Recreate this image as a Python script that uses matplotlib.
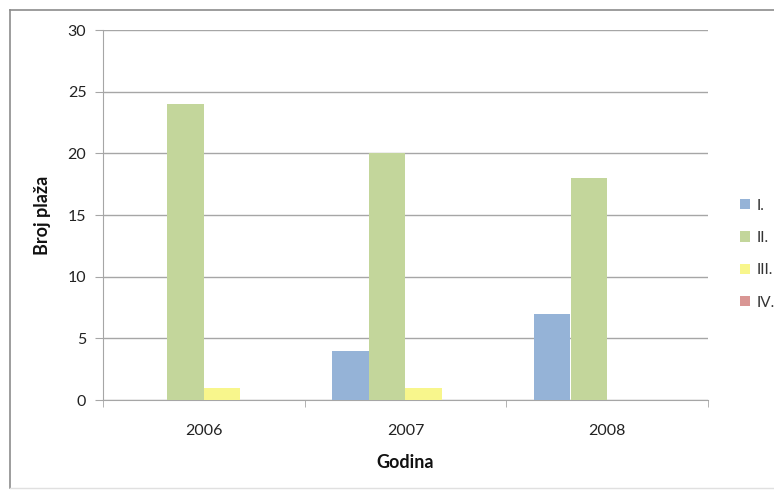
import matplotlib
matplotlib.use("Agg")
import matplotlib.pyplot as plt
from matplotlib.lines import Line2D
from matplotlib.patches import Patch
import numpy as np

years = ["2006", "2007", "2008"]
series_names = ["I.", "II.", "III.", "IV."]
val_I = [0, 4, 7]
val_II = [24, 20, 18]
val_III = [1, 1, 0]
val_IV = [0, 0, 0]
yticks = [0, 5, 10, 15, 20, 25, 30]

colors = ["#95B3D7", "#C3D69B", "#F8F68C", "#D99694"]
plt.rcParams['font.family'] = ['Lato', 'DejaVu Sans']

W, H = 774, 490
fig = plt.figure(figsize=(W / 100, H / 100), dpi=100)
ax = fig.add_axes([103 / W, 1 - 400 / H, 605 / W, 370 / H])

x = np.arange(len(years))
w = 1 / 5.5
all_vals = [val_I, val_II, val_III, val_IV]
for i, (vals, c) in enumerate(zip(all_vals, colors)):
    ax.bar(x + (i - 1.5) * w, vals, width=w, color=c, zorder=3, linewidth=0)

ax.set_xlim(-0.5, 2.5)
ax.set_ylim(0, 30)
ax.set_yticks(yticks)
ax.yaxis.grid(True, color="#A6A6A6", linewidth=1.0, zorder=0)
ax.set_axisbelow(True)
for s in ["top", "right"]:
    ax.spines[s].set_visible(False)
ax.spines["left"].set_color("#A6A6A6")
ax.spines["bottom"].set_color("#A6A6A6")
ax.spines["left"].set_zorder(1)

ax.set_xticks(x)
ax.set_xticklabels(years)
ax.set_xticks([-0.5, 0.5, 1.5, 2.5], minor=True)
ax.tick_params(axis="x", which="major", length=0, pad=17, labelsize=11.5, labelcolor="#222222")
ax.tick_params(axis="x", which="minor", length=5, color="#A6A6A6", direction="out")
ax.tick_params(axis="y", length=6, color="#A6A6A6", pad=6, labelsize=11.5, labelcolor="#222222")

ax.set_xlabel("Godina", fontsize=13, fontweight="bold", labelpad=12, color="#111111")
ax.set_ylabel("Broj plaža", fontsize=13, fontweight="bold", labelpad=12, color="#111111")

handles = [Patch(facecolor=c, edgecolor="none") for c in colors]
leg = fig.legend(handles, series_names, loc="center left", bbox_to_anchor=(726 / W, 1 - 254 / H),
                 frameon=False, fontsize=11, handlelength=0.65, handleheight=0.65,
                 handletextpad=0.45, labelspacing=1.2, labelcolor="#333333")

# outer chart border
fig.add_artist(Line2D([10 / W, 10 / W], [1 - 10 / H, 1 - 488 / H], transform=fig.transFigure,
                      color="#8C8C8C", linewidth=1.2))
fig.add_artist(Line2D([10 / W, 1.0], [1 - 10 / H, 1 - 10 / H], transform=fig.transFigure,
                      color="#8C8C8C", linewidth=1.2))
fig.add_artist(Line2D([10 / W, 1.0], [1 - 488 / H, 1 - 488 / H], transform=fig.transFigure,
                      color="#E0E0E0", linewidth=1.0))

fig.savefig("out.png", dpi=100)
